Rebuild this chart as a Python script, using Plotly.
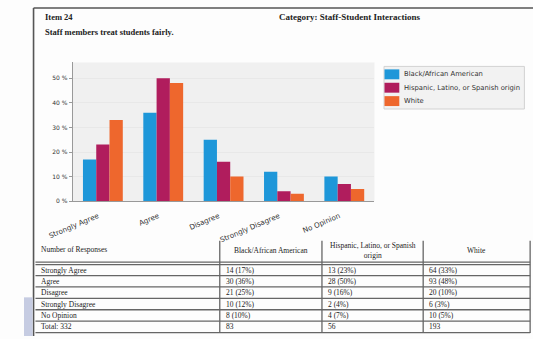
import plotly.graph_objects as go

categories = ["Strongly Agree", "Agree", "Disagree", "Strongly Disagree", "No Opinion"]
series_names = ["Black/African American", "Hispanic, Latino, or Spanish origin", "White"]
black_counts = [14, 30, 21, 10, 8]
hispanic_counts = [13, 28, 9, 2, 4]
white_counts = [64, 93, 20, 6, 10]
black_pct = [17, 36, 25, 12, 10]
hispanic_pct = [23, 50, 16, 4, 7]
white_pct = [33, 48, 10, 3, 5]
colors = ["#1e97d9", "#b01d5d", "#ee672d"]
y_ticks = [0, 10, 20, 30, 40, 50]
y_tick_labels = ["0 %", "10 %", "20 %", "30 %", "40 %", "50 %"]
table_headers = ["Number of Responses", "Black/African American",
                 "Hispanic, Latino, or Spanish<br>origin", "White"]

W, H = 533, 339
def px(x):
    return x / W
def py(y):
    return 1 - y / H

fig = go.Figure()
for name, vals, c in zip(series_names, [black_pct, hispanic_pct, white_pct], colors):
    fig.add_trace(go.Bar(x=categories, y=vals, name=name, marker=dict(color=c, line=dict(width=0)),
                         showlegend=False))

fig.update_layout(
    width=W, height=H, margin=dict(l=0, r=0, t=0, b=0),
    paper_bgcolor="#fdfdfd", plot_bgcolor="#f0f0f0",
    barmode="group", bargap=0.34, bargroupgap=0,
    font=dict(family="DejaVu Sans", size=6, color="#444"),
    xaxis=dict(domain=[px(51), px(367)], tickangle=-23, showgrid=False,
               tickfont=dict(size=7.2, color="#333"), showline=True, linecolor="#999",
               ticks="", fixedrange=True, ticklabelshift=-5, ticklabelstandoff=7),
    yaxis=dict(domain=[py(203), py(63)], range=[0, 56.4], tickvals=y_ticks, ticktext=y_tick_labels,
               showgrid=True, gridcolor="#e8e8e8", zeroline=False,
               showline=True, linecolor="#999", ticks="outside", ticklen=3,
               tickcolor="#999", tickfont=dict(size=6, color="#333")),
    showlegend=False,
)

shapes = []
annots = []

# legend (custom, compact)
shapes.append(dict(type="rect", xref="paper", yref="paper", x0=px(377), x1=px(524), y0=py(110), y1=py(67),
                   fillcolor="#f2f2f2", line=dict(color="#d2d2d2", width=1)))
for i, (name, c) in enumerate(zip(series_names, colors)):
    yc = 75 + i * 13.5
    shapes.append(dict(type="rect", xref="paper", yref="paper", x0=px(377.5), x1=px(393), y0=py(yc + 5),
                       y1=py(yc - 5), fillcolor=c, line=dict(width=0)))
    annots.append(dict(text=name, xref="paper", yref="paper", x=px(395.5), y=py(yc), xanchor="left",
                       yanchor="middle", showarrow=False, font=dict(family="DejaVu Sans", size=6.8, color="#333")))

# document frame
shapes.append(dict(type="line", xref="paper", yref="paper", x0=px(10), x1=1, y0=py(8), y1=py(8),
                   line=dict(color="#555", width=1.6)))
shapes.append(dict(type="line", xref="paper", yref="paper", x0=px(10), x1=px(10), y0=py(8), y1=0,
                   line=dict(color="#555", width=1.6)))
shapes.append(dict(type="rect", xref="paper", yref="paper", x0=0, x1=px(9), y0=0, y1=py(300),
                   fillcolor="#c6cce2", line=dict(width=0)))

serif = "Liberation Serif"
annots.append(dict(text="<b>Item 24</b>", x=px(20), y=py(17), xanchor="left",
                   font=dict(family=serif, size=8.5, color="#222")))
annots.append(dict(text="<b>Category: Staff-Student Interactions</b>", x=px(265), y=py(17), xanchor="left",
                   font=dict(family=serif, size=9, color="#222")))
annots.append(dict(text="<b>Staff members treat students fairly.</b>", x=px(20), y=py(32), xanchor="left",
                   font=dict(family=serif, size=8.5, color="#222")))

# table
counts = [black_counts, hispanic_counts, white_counts]
pcts = [black_pct, hispanic_pct, white_pct]
col0 = categories + ["Total: %d" % (sum(black_counts) + sum(hispanic_counts) + sum(white_counts))]
cols = [col0]
for cs, ps in zip(counts, pcts):
    cols.append(["%d (%d%%)" % (c, p) for c, p in zip(cs, ps)] + [str(sum(cs))])

col_x = [12, 205, 312, 418, 530]
row_lines = [267, 278, 289.5, 301, 312.5, 324, 335.5]
line_col = "#666"
for x in col_x[1:]:
    shapes.append(dict(type="line", xref="paper", yref="paper", x0=px(x), x1=px(x), y0=py(243), y1=py(336),
                       line=dict(color=line_col, width=1.3)))
shapes.append(dict(type="line", xref="paper", yref="paper", x0=px(12), x1=px(530), y0=py(264.5), y1=py(264.5),
                   line=dict(color=line_col, width=1.3)))
for y in row_lines:
    shapes.append(dict(type="line", xref="paper", yref="paper", x0=px(12), x1=px(530), y0=py(y), y1=py(y),
                       line=dict(color=line_col, width=1.3)))

for j, h in enumerate(table_headers):
    if j == 0:
        annots.append(dict(text=h, x=px(16), y=py(252), xanchor="left",
                           font=dict(family=serif, size=7.5, color="#222")))
    else:
        annots.append(dict(text=h, x=px((col_x[j] + col_x[j + 1]) / 2), y=py(253), xanchor="center",
                           font=dict(family=serif, size=7.5, color="#222")))
for j, col in enumerate(cols):
    for i, v in enumerate(col):
        yc = (row_lines[i] + row_lines[i + 1]) / 2
        annots.append(dict(text=v, x=px(col_x[j] + 4), y=py(yc), xanchor="left",
                           font=dict(family=serif, size=7.5, color="#222")))

for a in annots:
    a.setdefault("xref", "paper")
    a.setdefault("yref", "paper")
    a.setdefault("yanchor", "middle")
    a["showarrow"] = False

fig.update_layout(shapes=shapes, annotations=annots)
fig.write_html("out.html")
